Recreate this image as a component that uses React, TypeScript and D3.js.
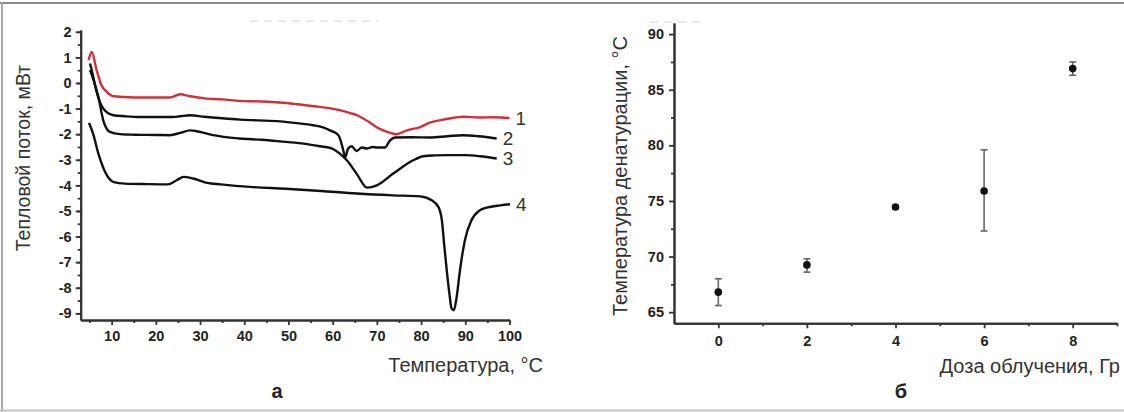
import React, { useRef, useEffect } from 'react'
import * as d3 from 'd3'

// panel a: DSC curves (temperature, heat flow)
const curve1X = [4.8, 5.5, 6.6, 7.7, 8.9, 10.4, 13, 16.4, 20, 23.2, 25.5, 27.7, 31.5, 35, 39, 43, 48, 52, 55.8, 59.8, 62, 64, 65.5, 67, 68.7, 70.5, 72.5, 74.4, 76.8, 79.8, 82, 85, 89.7, 93.3, 96.5, 100]
const curve1Y = [0.9, 1.21, 0.5, -0.09, -0.35, -0.52, -0.55, -0.57, -0.57, -0.57, -0.44, -0.52, -0.61, -0.64, -0.7, -0.72, -0.76, -0.83, -0.91, -1.0, -1.08, -1.18, -1.26, -1.4, -1.58, -1.78, -1.92, -2.0, -1.85, -1.72, -1.55, -1.43, -1.32, -1.35, -1.34, -1.37]

const curve2X = [5.1, 5.5, 6.6, 8.1, 10.4, 13, 16.4, 20, 23.9, 25.5, 27.7, 31, 35, 39, 43, 48.1, 52, 55.6, 58, 59.4, 61.3, 62.4, 62.8, 63.5, 64.3, 65.4, 66.6, 67.7, 69, 70, 71.8, 73, 74.1, 78, 82, 86, 89.5, 93, 97.1]
const curve2Y = [0.76, 0.5, -0.35, -1.0, -1.26, -1.3, -1.33, -1.33, -1.33, -1.3, -1.26, -1.32, -1.38, -1.43, -1.46, -1.5, -1.57, -1.65, -1.74, -1.85, -2.04, -2.63, -2.91, -2.56, -2.47, -2.66, -2.52, -2.56, -2.5, -2.52, -2.52, -2.24, -2.13, -2.12, -2.13, -2.08, -2.04, -2.08, -2.17]

const curve3X = [5.1, 5.8, 7.0, 8.1, 9.6, 11.9, 15, 20, 23.2, 25.5, 27.7, 30, 33, 39, 44, 48.1, 53, 57.1, 59.9, 61.6, 63.2, 65.4, 67.8, 70, 73.7, 78.2, 80.5, 83, 85.8, 90, 93.3, 97.1]
const curve3Y = [0.5, 0.17, -0.55, -1.46, -1.91, -2.0, -2.02, -2.03, -2.04, -1.95, -1.85, -1.91, -2.04, -2.17, -2.22, -2.28, -2.36, -2.47, -2.56, -2.76, -3.02, -3.54, -4.09, -4.0, -3.54, -3.02, -2.86, -2.83, -2.82, -2.82, -2.86, -2.95]

const curve4X = [4.9, 5.8, 7.0, 8.9, 10.5, 13, 18, 22.7, 24.7, 26.3, 28.4, 31.6, 34.7, 41.3, 49.4, 57.4, 65.5, 73.6, 79.8, 82.4, 83.9, 84.7, 85.2, 85.8, 86.4, 86.9, 87.4, 88.0, 88.8, 89.9, 91.4, 93.3, 94.8, 97.9, 100.1]
const curve4Y = [-1.56, -1.98, -2.76, -3.6, -3.87, -3.93, -3.95, -3.96, -3.8, -3.67, -3.73, -3.9, -3.96, -4.06, -4.13, -4.22, -4.32, -4.39, -4.43, -4.58, -4.84, -5.36, -6.27, -7.31, -8.22, -8.81, -8.88, -8.42, -7.31, -6.15, -5.36, -4.97, -4.87, -4.78, -4.74]

const curveNames = ['1', '2', '3', '4']
const heatTicks = [2, 1, 0, -1, -2, -3, -4, -5, -6, -7, -8, -9]
const tempTicks = [10, 20, 30, 40, 50, 60, 70, 80, 90, 100]

// panel b: denaturation temperature vs dose
const doses = [0, 2, 4, 6, 8]
const denatTemp = [66.8, 69.25, 74.45, 75.9, 86.9]
const denatLow = [65.6, 68.6, 74.3, 72.3, 86.3]
const denatHigh = [68.0, 69.8, 74.6, 79.6, 87.5]
const doseTicks = [0, 2, 4, 6, 8]
const denatTicks = [65, 70, 75, 80, 85, 90]

const FONT = '"Liberation Sans", Arial, sans-serif'

export default function App() {
  const svgRef = useRef<SVGSVGElement>(null)

  useEffect(() => {
    const svg = d3.select(svgRef.current)
    svg.selectAll('*').remove()

    // frame
    svg.append('line').attr('x1', 0).attr('x2', 1124).attr('y1', 3).attr('y2', 3).attr('stroke', '#8a8a8a').attr('stroke-width', 2)
    svg.append('line').attr('x1', 2).attr('x2', 2).attr('y1', 3).attr('y2', 412).attr('stroke', '#aaa').attr('stroke-width', 2)
    svg.append('line').attr('x1', 0).attr('x2', 1124).attr('y1', 410.5).attr('y2', 410.5).attr('stroke', '#c4c4c4').attr('stroke-width', 2)

    // faint scan remnants
    svg.append('line').attr('x1', 250).attr('x2', 378).attr('y1', 21).attr('y2', 21)
      .attr('stroke', '#e2e2e2').attr('stroke-width', 1.5).attr('stroke-dasharray', '8,6')
    svg.append('line').attr('x1', 650).attr('x2', 703).attr('y1', 22).attr('y2', 22)
      .attr('stroke', '#e2e2e2').attr('stroke-width', 1.5).attr('stroke-dasharray', '8,6')

    const styleAxis = (g: any, size: number) => {
      g.select('.domain').attr('stroke', '#333').attr('stroke-width', 2)
      g.selectAll('.tick line').attr('stroke', '#333').attr('stroke-width', 1.8)
      g.selectAll('text').attr('font-family', FONT).attr('font-weight', 'bold')
        .attr('font-size', size).attr('fill', '#222')
      g.attr('font-family', null).attr('font-size', null)
    }

    // ---------- panel a ----------
    const xa = d3.scaleLinear().domain([3, 100]).range([80.7, 509.5])
    const ya = d3.scaleLinear().domain([-9.26, 2.07]).range([320, 30])

    const axa = svg.append('g').attr('transform', 'translate(80.7,0)')
    axa.append('g').call(d3.axisLeft(ya).tickValues(d3.range(-9, 2.01, 0.5)).tickSize(3).tickFormat(() => '').tickSizeOuter(0))
      .call(g => styleAxis(g, 14.5))
    axa.append('g').call(d3.axisLeft(ya).tickValues(heatTicks).tickSize(5).tickPadding(4).tickFormat(d => String(d)).tickSizeOuter(0))
      .call(g => styleAxis(g, 14.5))

    const bxa = svg.append('g').attr('transform', 'translate(0,320)')
    bxa.append('g').call(d3.axisBottom(xa).tickValues(d3.range(5, 100, 10)).tickSize(3).tickFormat(() => '').tickSizeOuter(0))
      .call(g => styleAxis(g, 14.5))
    bxa.append('g').call(d3.axisBottom(xa).tickValues(tempTicks).tickSize(5).tickPadding(6).tickFormat(d => String(d)).tickSizeOuter(0))
      .call(g => styleAxis(g, 14.5))

    const line = d3.line<[number, number]>()
      .x(d => xa(d[0])).y(d => ya(d[1]))
      .curve(d3.curveMonotoneX)

    const curves = [
      { xs: curve1X, ys: curve1Y, color: '#d0303a' },
      { xs: curve2X, ys: curve2Y, color: '#111' },
      { xs: curve3X, ys: curve3Y, color: '#111' },
      { xs: curve4X, ys: curve4Y, color: '#111' },
    ]
    curves.forEach((c, i) => {
      const pts = c.xs.map((x, j) => [x, c.ys[j]] as [number, number])
      svg.append('path').attr('d', line(pts)).attr('fill', 'none')
        .attr('stroke', c.color).attr('stroke-width', 2.4).attr('stroke-linejoin', 'round')
      const last = pts[pts.length - 1]
      svg.append('text')
        .attr('x', xa(last[0]) + 6).attr('y', ya(last[1]) + 6.5)
        .attr('font-family', FONT).attr('font-size', 19).attr('fill', '#333')
        .text(curveNames[i])
    })

    svg.append('text').attr('transform', 'translate(30,158) rotate(-90)')
      .attr('text-anchor', 'middle').attr('font-family', FONT).attr('font-size', 19.5).attr('fill', '#333')
      .text('Тепловой поток, мВт')
    svg.append('text').attr('x', 543).attr('y', 372).attr('text-anchor', 'end')
      .attr('font-family', FONT).attr('font-size', 20).attr('fill', '#333')
      .text('Температура, °C')
    svg.append('text').attr('x', 277).attr('y', 398).attr('text-anchor', 'middle')
      .attr('font-family', FONT).attr('font-size', 20).attr('font-weight', 'bold').attr('fill', '#222')
      .text('а')

    // ---------- panel b ----------
    const xb = d3.scaleLinear().domain([-1, 9]).range([674, 1117])
    const yb = d3.scaleLinear().domain([64, 91]).range([323.3, 23])

    const ayb = svg.append('g').attr('transform', 'translate(674,0)')
    ayb.append('g').call(d3.axisLeft(yb).tickValues(d3.range(67.5, 90, 5)).tickSize(3).tickFormat(() => '').tickSizeOuter(0))
      .call(g => styleAxis(g, 14.5))
    ayb.append('g').call(d3.axisLeft(yb).tickValues(denatTicks).tickSize(5).tickPadding(5).tickFormat(d => String(d)).tickSizeOuter(0))
      .call(g => styleAxis(g, 14.5))

    const bxb = svg.append('g').attr('transform', 'translate(0,323.3)')
    bxb.append('g').call(d3.axisBottom(xb).tickValues([1, 3, 5, 7, 9]).tickSize(3).tickFormat(() => '').tickSizeOuter(0))
      .call(g => styleAxis(g, 14.5))
    bxb.append('g').call(d3.axisBottom(xb).tickValues(doseTicks).tickSize(5).tickPadding(7).tickFormat(d => String(d)).tickSizeOuter(0))
      .call(g => styleAxis(g, 14.5))

    doses.forEach((d, i) => {
      const cx = xb(d)
      const g = svg.append('g').attr('stroke', '#666').attr('stroke-width', 1.6)
      g.append('line').attr('x1', cx).attr('x2', cx).attr('y1', yb(denatLow[i])).attr('y2', yb(denatHigh[i]))
      g.append('line').attr('x1', cx - 3.5).attr('x2', cx + 3.5).attr('y1', yb(denatLow[i])).attr('y2', yb(denatLow[i]))
      g.append('line').attr('x1', cx - 3.5).attr('x2', cx + 3.5).attr('y1', yb(denatHigh[i])).attr('y2', yb(denatHigh[i]))
      svg.append('circle').attr('cx', cx).attr('cy', yb(denatTemp[i])).attr('r', 3.8).attr('fill', '#111')
    })

    svg.append('text').attr('transform', 'translate(627,176) rotate(-90)')
      .attr('text-anchor', 'middle').attr('font-family', FONT).attr('font-size', 20).attr('fill', '#333')
      .text('Температура денатурации, °C')
    svg.append('text').attr('x', 1120).attr('y', 373).attr('text-anchor', 'end')
      .attr('font-family', FONT).attr('font-size', 20).attr('fill', '#333')
      .text('Доза облучения, Гр')
    svg.append('text').attr('x', 901).attr('y', 398).attr('text-anchor', 'middle')
      .attr('font-family', FONT).attr('font-size', 20).attr('font-weight', 'bold').attr('fill', '#222')
      .text('б')
  }, [])

  return (
    <div style={{ position: 'fixed', left: 0, top: 0, width: 1124, height: 412, background: '#fff' }}>
      <svg ref={svgRef} width={1124} height={412} role="img"
        aria-label="DSC curves and denaturation temperature vs irradiation dose" />
    </div>
  )
}
